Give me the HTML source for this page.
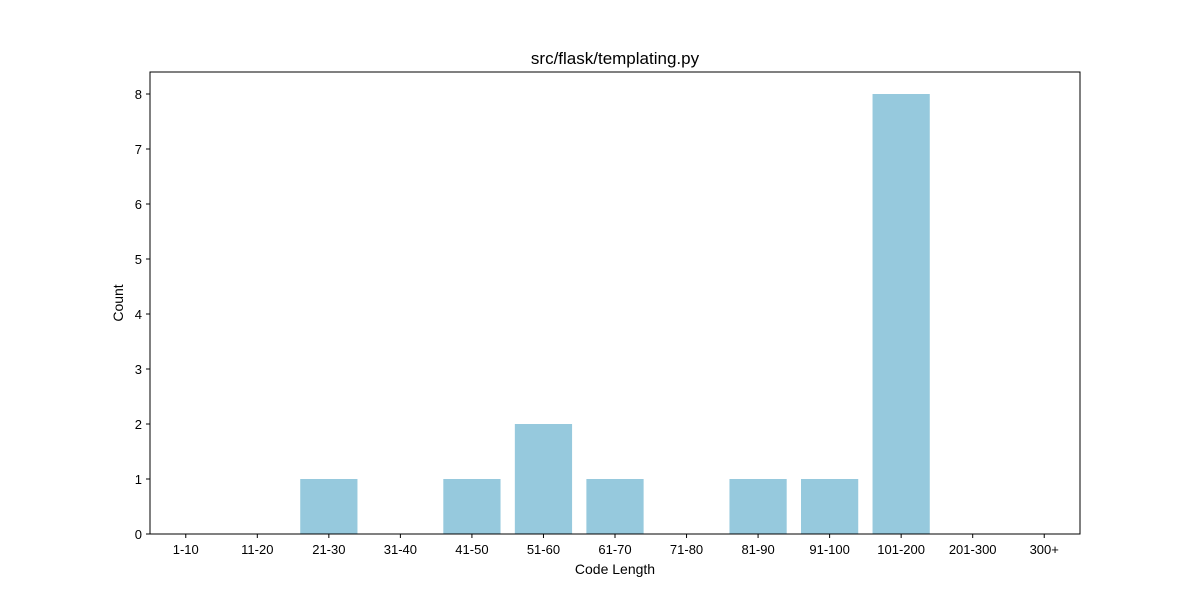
<!DOCTYPE html>
<html><head><meta charset="utf-8"><style>
body{margin:0;background:#fff;}
svg text{font-family:"Liberation Sans","DejaVu Sans",sans-serif;fill:#000;}
</style></head><body>
<svg id="chart" width="1200" height="600" xmlns="http://www.w3.org/2000/svg">
<rect width="1200" height="600" fill="#fff"/>
<text x="615" y="64" font-size="17" text-anchor="middle">src/flask/templating.py</text>
<g id="bars"></g>
<g id="axes"></g>
<rect x="150" y="72" width="930" height="462" fill="none" stroke="#000" stroke-width="1"/>
<text x="615" y="574" font-size="14" text-anchor="middle">Code Length</text>
<text transform="translate(123,303) rotate(-90)" font-size="14" text-anchor="middle">Count</text>
</svg>
<script>
const categories = ["1-10","11-20","21-30","31-40","41-50","51-60","61-70","71-80","81-90","91-100","101-200","201-300","300+"];
const counts = [0,0,1,0,1,2,1,0,1,1,8,0,0];
const yTicks = [0,1,2,3,4,5,6,7,8];
const pl=150,pr=1080,pt=72,pb=534,yMax=8.4;
const xs = i => pl + (i + 0.5) * (pr-pl)/categories.length;
const ys = v => pb - v/yMax*(pb-pt);
const ns="http://www.w3.org/2000/svg";
const barsG=document.getElementById('bars'), axesG=document.getElementById('axes');
const bw = 0.8*(pr-pl)/categories.length;
categories.forEach((c,i)=>{
  const r=document.createElementNS(ns,'rect');
  
  
  r.setAttribute('x',xs(i)-bw/2);r.setAttribute('width',bw);
  r.setAttribute('y',ys(counts[i]));r.setAttribute('height',pb-ys(counts[i]));
  r.setAttribute('fill','#96c9dd');
  barsG.appendChild(r);
  const t=document.createElementNS(ns,'line');
  
  
  t.setAttribute('x1',xs(i));t.setAttribute('x2',xs(i));t.setAttribute('y1',pb);t.setAttribute('y2',pb+4);
  t.setAttribute('stroke','#000');axesG.appendChild(t);
  const l=document.createElementNS(ns,'text');
  
  
  l.setAttribute('x',xs(i));l.setAttribute('y',pb+20);l.setAttribute('font-size','13');l.setAttribute('text-anchor','middle');
  l.textContent=c;axesG.appendChild(l);
});
yTicks.forEach(v=>{
  const t=document.createElementNS(ns,'line');
  
  
  t.setAttribute('x1',pl-4);t.setAttribute('x2',pl);t.setAttribute('y1',ys(v));t.setAttribute('y2',ys(v));
  t.setAttribute('stroke','#000');axesG.appendChild(t);
  const l=document.createElementNS(ns,'text');
  
  
  l.setAttribute('x',pl-8);l.setAttribute('y',ys(v)+5);l.setAttribute('font-size','13');l.setAttribute('text-anchor','end');
  l.textContent=v;axesG.appendChild(l);
});
</script>
</body></html>
